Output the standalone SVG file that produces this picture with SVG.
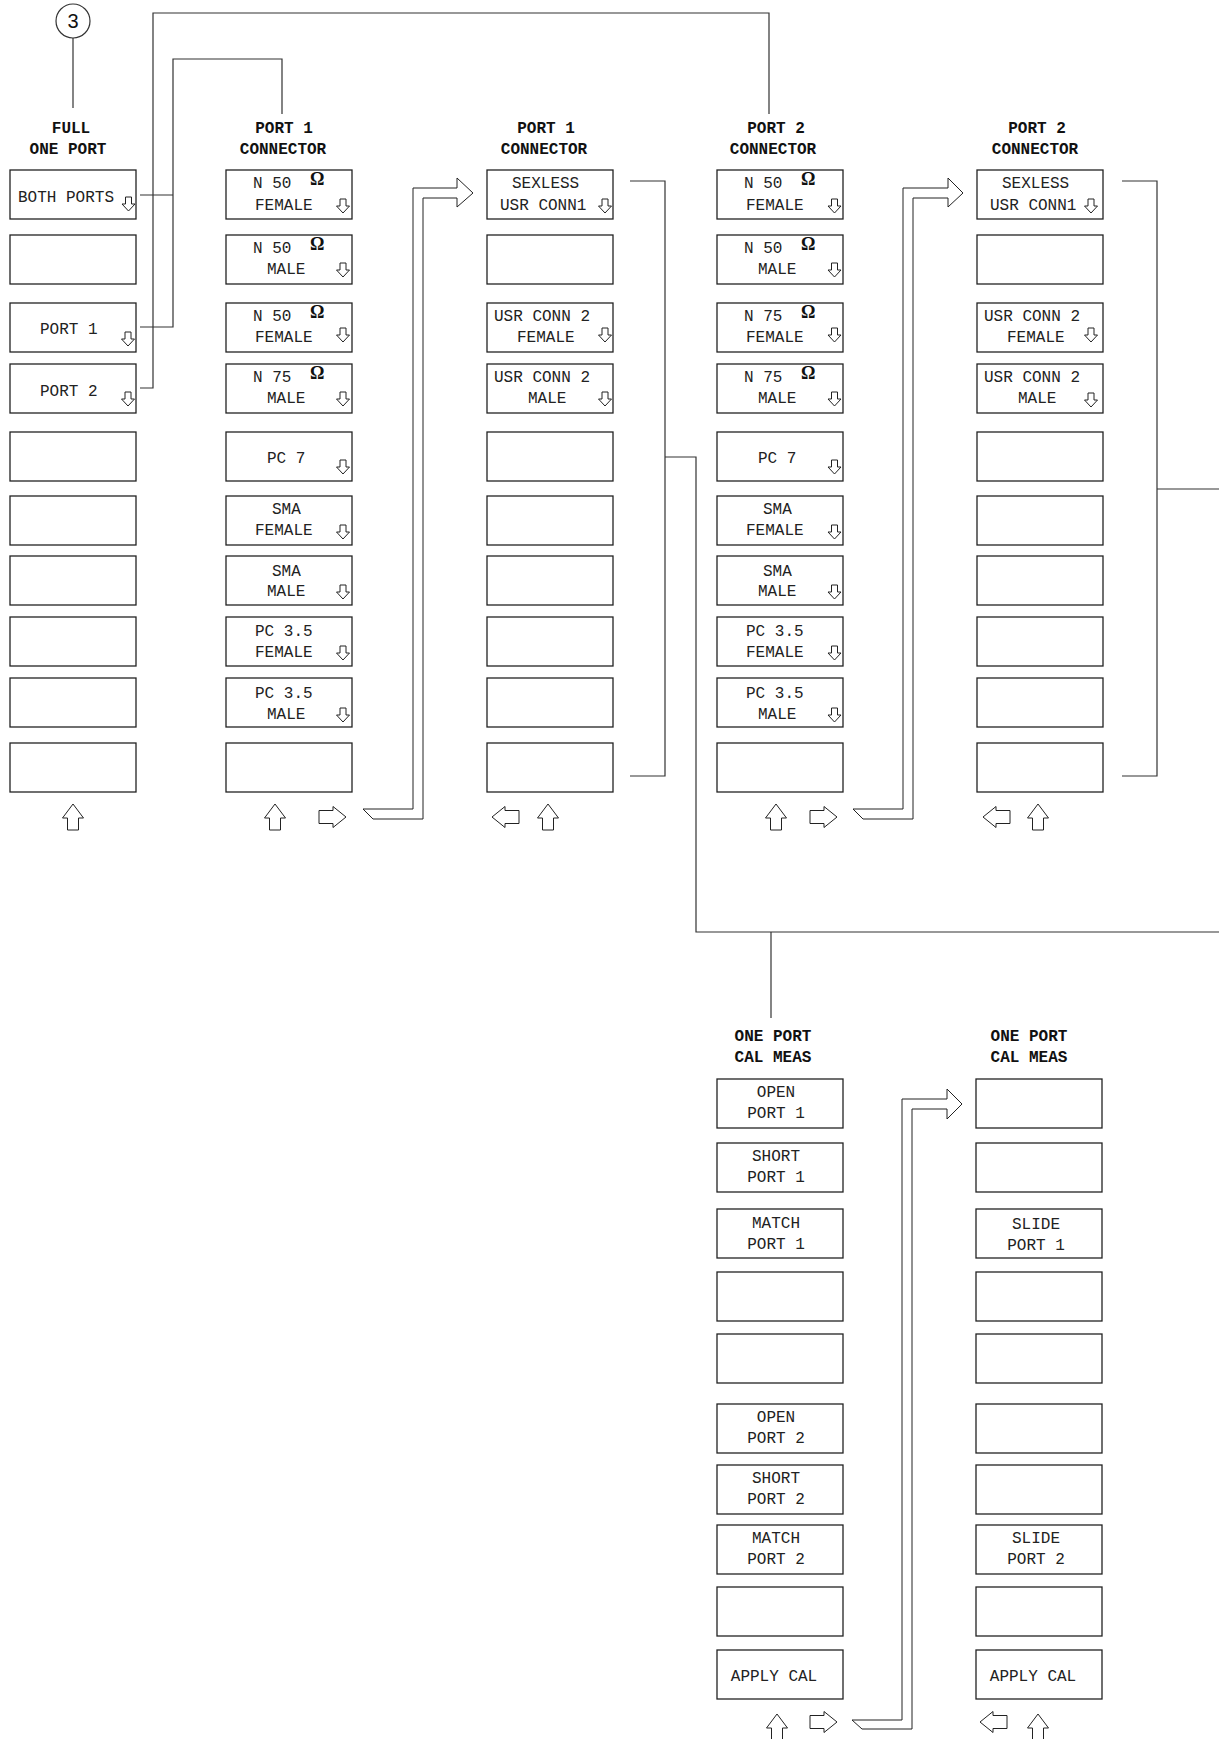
<svg xmlns="http://www.w3.org/2000/svg" xmlns:xlink="http://www.w3.org/1999/xlink" width="1219" height="1739" viewBox="0 0 1219 1739">
<style>
.bg{fill:#fff}
.box{fill:#fff;stroke:#222;stroke-width:1.3}
.t{font-family:"Liberation Mono","Courier New",monospace;font-size:16px;fill:#222}
.c{text-anchor:middle}
.h{font-family:"Liberation Mono","Courier New",monospace;font-size:16px;font-weight:bold;fill:#111;text-anchor:middle}
.om{font-family:"Liberation Serif","Times New Roman",serif;font-size:18px;font-weight:bold;fill:#111}
.ln{fill:none;stroke:#333;stroke-width:1.2}
.ar{fill:#fff;stroke:#222;stroke-width:1}
</style>
<defs>
<path id="dn" class="ar" d="M-3,0 V7 H-6.5 L0,14 L6.5,7 H3 V0 Z"/>
<path id="up" class="ar" d="M0,0 L10.5,14 H5.5 V26 H-5.5 V14 H-10.5 Z"/>
<path id="rt" class="ar" d="M0,-6.5 H14 V-10.5 L27,0 L14,10.5 V6.5 H0 Z"/>
<path id="lf" class="ar" d="M0,0 L13,-10.5 V-6.5 H27 V6.5 H13 V10.5 Z"/>
</defs>
<rect class="bg" x="0" y="0" width="1219" height="1739"/>

<g id="connectors">
<circle class="ln" cx="73" cy="21" r="17"/>
<text x="73" y="28" text-anchor="middle" style="font-family:'Liberation Sans',Arial,sans-serif;font-size:20px;fill:#111">3</text>
<line class="ln" x1="73" y1="38" x2="73" y2="108"/>
<line class="ln" x1="140" y1="195" x2="173" y2="195"/>
<polyline class="ln" points="140,327 173,327 173,59 282,59 282,114"/>
<polyline class="ln" points="140,388 153,388 153,13 769,13 769,114"/>
<polyline class="ln" points="630,181 665,181 665,776 630,776"/>
<polyline class="ln" points="665,457 696,457 696,932 1219,932"/>
<line class="ln" x1="771" y1="932" x2="771" y2="1018"/>
<polyline class="ln" points="1122,181 1157,181 1157,776 1122,776"/>
<line class="ln" x1="1157" y1="489" x2="1219" y2="489"/>
<polygon class="ar" points="363,809 413,809 413,188 457,188 457,178 473,193 457,207 457,198 423,198 423,819 373,819"/>
<polygon class="ar" points="853,809 903,809 903,188 948,188 948,178 963,193 948,207 948,198 913,198 913,819 863,819"/>
<polygon class="ar" points="852,1720 902,1720 902,1099 947,1099 947,1089 962,1104 947,1119 947,1109 912,1109 912,1729 862,1729"/>
</g>

<g id="menu-full-one-port">
<text class="h" x="71" y="133">FULL</text>
<text class="h" x="68" y="154">ONE PORT</text>
<g id="a1"><rect class="box" x="10" y="170" width="126" height="49"/><text class="t" x="18" y="202">BOTH PORTS</text><use href="#dn" x="128.5" y="197"/></g>
<g id="a2"><rect class="box" x="10" y="235" width="126" height="49"/></g>
<g id="a3"><rect class="box" x="10" y="303" width="126" height="49"/><text class="t" x="40" y="334">PORT 1</text><use href="#dn" x="128" y="332"/></g>
<g id="a4"><rect class="box" x="10" y="364" width="126" height="49"/><text class="t" x="40" y="396">PORT 2</text><use href="#dn" x="128" y="392"/></g>
<g id="a5"><rect class="box" x="10" y="432" width="126" height="49"/></g>
<g id="a6"><rect class="box" x="10" y="496" width="126" height="49"/></g>
<g id="a7"><rect class="box" x="10" y="556" width="126" height="49"/></g>
<g id="a8"><rect class="box" x="10" y="617" width="126" height="49"/></g>
<g id="a9"><rect class="box" x="10" y="678" width="126" height="49"/></g>
<g id="a10"><rect class="box" x="10" y="743" width="126" height="49"/></g>
<use href="#up" x="73" y="804"/>
</g>

<g id="menu-port1-connector">
<text class="h" x="284" y="133">PORT 1</text>
<text class="h" x="283" y="154">CONNECTOR</text>
<g id="b1"><rect class="box" x="226" y="170" width="126" height="49"/><text class="t" x="253" y="188">N 50</text><text class="om" x="310" y="185">Ω</text><text class="t" x="255" y="210">FEMALE</text><use href="#dn" x="343" y="199"/></g>
<g id="b2"><rect class="box" x="226" y="235" width="126" height="49"/><text class="t" x="253" y="253">N 50</text><text class="om" x="310" y="250">Ω</text><text class="t" x="267" y="274">MALE</text><use href="#dn" x="343" y="263"/></g>
<g id="b3"><rect class="box" x="226" y="303" width="126" height="49"/><text class="t" x="253" y="321">N 50</text><text class="om" x="310" y="318">Ω</text><text class="t" x="255" y="342">FEMALE</text><use href="#dn" x="343" y="328"/></g>
<g id="b4"><rect class="box" x="226" y="364" width="126" height="49"/><text class="t" x="253" y="382">N 75</text><text class="om" x="310" y="379">Ω</text><text class="t" x="267" y="403">MALE</text><use href="#dn" x="343" y="392"/></g>
<g id="b5"><rect class="box" x="226" y="432" width="126" height="49"/><text class="t" x="267" y="463">PC 7</text><use href="#dn" x="343" y="460"/></g>
<g id="b6"><rect class="box" x="226" y="496" width="126" height="49"/><text class="t" x="272" y="514">SMA</text><text class="t" x="255" y="535">FEMALE</text><use href="#dn" x="343" y="525"/></g>
<g id="b7"><rect class="box" x="226" y="556" width="126" height="49"/><text class="t" x="272" y="576">SMA</text><text class="t" x="267" y="596">MALE</text><use href="#dn" x="343" y="585"/></g>
<g id="b8"><rect class="box" x="226" y="617" width="126" height="49"/><text class="t" x="255" y="636">PC 3.5</text><text class="t" x="255" y="657">FEMALE</text><use href="#dn" x="343" y="646"/></g>
<g id="b9"><rect class="box" x="226" y="678" width="126" height="49"/><text class="t" x="255" y="698">PC 3.5</text><text class="t" x="267" y="719">MALE</text><use href="#dn" x="343" y="708"/></g>
<g id="b10"><rect class="box" x="226" y="743" width="126" height="49"/></g>
<use href="#up" x="275" y="804"/>
<use href="#rt" x="319" y="817"/>
</g>

<g id="menu-port1-connector-2">
<text class="h" x="546" y="133">PORT 1</text>
<text class="h" x="544" y="154">CONNECTOR</text>
<g id="c1"><rect class="box" x="487" y="170" width="126" height="49"/><text class="t" x="512" y="188">SEXLESS</text><text class="t" x="500" y="210">USR CONN1</text><use href="#dn" x="605" y="199"/></g>
<g id="c2"><rect class="box" x="487" y="235" width="126" height="49"/></g>
<g id="c3"><rect class="box" x="487" y="303" width="126" height="49"/><text class="t" x="494" y="321">USR CONN 2</text><text class="t" x="517" y="342">FEMALE</text><use href="#dn" x="605" y="328"/></g>
<g id="c4"><rect class="box" x="487" y="364" width="126" height="49"/><text class="t" x="494" y="382">USR CONN 2</text><text class="t" x="528" y="403">MALE</text><use href="#dn" x="605" y="392"/></g>
<g id="c5"><rect class="box" x="487" y="432" width="126" height="49"/></g>
<g id="c6"><rect class="box" x="487" y="496" width="126" height="49"/></g>
<g id="c7"><rect class="box" x="487" y="556" width="126" height="49"/></g>
<g id="c8"><rect class="box" x="487" y="617" width="126" height="49"/></g>
<g id="c9"><rect class="box" x="487" y="678" width="126" height="49"/></g>
<g id="c10"><rect class="box" x="487" y="743" width="126" height="49"/></g>
<use href="#lf" x="492" y="817"/>
<use href="#up" x="548" y="804"/>
</g>

<g id="menu-port2-connector">
<text class="h" x="776" y="133">PORT 2</text>
<text class="h" x="773" y="154">CONNECTOR</text>
<g id="d1"><rect class="box" x="717" y="170" width="126" height="49"/><text class="t" x="744" y="188">N 50</text><text class="om" x="801" y="185">Ω</text><text class="t" x="746" y="210">FEMALE</text><use href="#dn" x="834.5" y="199"/></g>
<g id="d2"><rect class="box" x="717" y="235" width="126" height="49"/><text class="t" x="744" y="253">N 50</text><text class="om" x="801" y="250">Ω</text><text class="t" x="758" y="274">MALE</text><use href="#dn" x="834.5" y="263"/></g>
<g id="d3"><rect class="box" x="717" y="303" width="126" height="49"/><text class="t" x="744" y="321">N 75</text><text class="om" x="801" y="318">Ω</text><text class="t" x="746" y="342">FEMALE</text><use href="#dn" x="834.5" y="328"/></g>
<g id="d4"><rect class="box" x="717" y="364" width="126" height="49"/><text class="t" x="744" y="382">N 75</text><text class="om" x="801" y="379">Ω</text><text class="t" x="758" y="403">MALE</text><use href="#dn" x="834.5" y="392"/></g>
<g id="d5"><rect class="box" x="717" y="432" width="126" height="49"/><text class="t" x="758" y="463">PC 7</text><use href="#dn" x="834.5" y="460"/></g>
<g id="d6"><rect class="box" x="717" y="496" width="126" height="49"/><text class="t" x="763" y="514">SMA</text><text class="t" x="746" y="535">FEMALE</text><use href="#dn" x="834.5" y="525"/></g>
<g id="d7"><rect class="box" x="717" y="556" width="126" height="49"/><text class="t" x="763" y="576">SMA</text><text class="t" x="758" y="596">MALE</text><use href="#dn" x="834.5" y="585"/></g>
<g id="d8"><rect class="box" x="717" y="617" width="126" height="49"/><text class="t" x="746" y="636">PC 3.5</text><text class="t" x="746" y="657">FEMALE</text><use href="#dn" x="834.5" y="646"/></g>
<g id="d9"><rect class="box" x="717" y="678" width="126" height="49"/><text class="t" x="746" y="698">PC 3.5</text><text class="t" x="758" y="719">MALE</text><use href="#dn" x="834.5" y="708"/></g>
<g id="d10"><rect class="box" x="717" y="743" width="126" height="49"/></g>
<use href="#up" x="776" y="804"/>
<use href="#rt" x="810" y="817"/>
</g>

<g id="menu-port2-connector-2">
<text class="h" x="1037" y="133">PORT 2</text>
<text class="h" x="1035" y="154">CONNECTOR</text>
<g id="e1"><rect class="box" x="977" y="170" width="126" height="49"/><text class="t" x="1002" y="188">SEXLESS</text><text class="t" x="990" y="210">USR CONN1</text><use href="#dn" x="1091" y="199"/></g>
<g id="e2"><rect class="box" x="977" y="235" width="126" height="49"/></g>
<g id="e3"><rect class="box" x="977" y="303" width="126" height="49"/><text class="t" x="984" y="321">USR CONN 2</text><text class="t" x="1007" y="342">FEMALE</text><use href="#dn" x="1091" y="328"/></g>
<g id="e4"><rect class="box" x="977" y="364" width="126" height="49"/><text class="t" x="984" y="382">USR CONN 2</text><text class="t" x="1018" y="403">MALE</text><use href="#dn" x="1091" y="393"/></g>
<g id="e5"><rect class="box" x="977" y="432" width="126" height="49"/></g>
<g id="e6"><rect class="box" x="977" y="496" width="126" height="49"/></g>
<g id="e7"><rect class="box" x="977" y="556" width="126" height="49"/></g>
<g id="e8"><rect class="box" x="977" y="617" width="126" height="49"/></g>
<g id="e9"><rect class="box" x="977" y="678" width="126" height="49"/></g>
<g id="e10"><rect class="box" x="977" y="743" width="126" height="49"/></g>
<use href="#lf" x="983" y="817"/>
<use href="#up" x="1038" y="804"/>
</g>

<g id="menu-one-port-cal-meas">
<text class="h" x="773" y="1041">ONE PORT</text>
<text class="h" x="773" y="1062">CAL MEAS</text>
<g id="f1"><rect class="box" x="717" y="1079" width="126" height="49"/><text class="t c" x="776" y="1097">OPEN</text><text class="t c" x="776" y="1118">PORT 1</text></g>
<g id="f2"><rect class="box" x="717" y="1143" width="126" height="49"/><text class="t c" x="776" y="1161">SHORT</text><text class="t c" x="776" y="1182">PORT 1</text></g>
<g id="f3"><rect class="box" x="717" y="1209" width="126" height="49"/><text class="t c" x="776" y="1228">MATCH</text><text class="t c" x="776" y="1249">PORT 1</text></g>
<g id="f4"><rect class="box" x="717" y="1272" width="126" height="49"/></g>
<g id="f5"><rect class="box" x="717" y="1334" width="126" height="49"/></g>
<g id="f6"><rect class="box" x="717" y="1404" width="126" height="49"/><text class="t c" x="776" y="1422">OPEN</text><text class="t c" x="776" y="1443">PORT 2</text></g>
<g id="f7"><rect class="box" x="717" y="1465" width="126" height="49"/><text class="t c" x="776" y="1483">SHORT</text><text class="t c" x="776" y="1504">PORT 2</text></g>
<g id="f8"><rect class="box" x="717" y="1525" width="126" height="49"/><text class="t c" x="776" y="1543">MATCH</text><text class="t c" x="776" y="1564">PORT 2</text></g>
<g id="f9"><rect class="box" x="717" y="1587" width="126" height="49"/></g>
<g id="f10"><rect class="box" x="717" y="1650" width="126" height="49"/><text class="t c" x="774" y="1681">APPLY CAL</text></g>
<use href="#up" x="777" y="1714"/>
<use href="#rt" x="810" y="1722"/>
</g>

<g id="menu-one-port-cal-meas-2">
<text class="h" x="1029" y="1041">ONE PORT</text>
<text class="h" x="1029" y="1062">CAL MEAS</text>
<g id="g1"><rect class="box" x="976" y="1079" width="126" height="49"/></g>
<g id="g2"><rect class="box" x="976" y="1143" width="126" height="49"/></g>
<g id="g3"><rect class="box" x="976" y="1209" width="126" height="49"/><text class="t c" x="1036" y="1229">SLIDE</text><text class="t c" x="1036" y="1250">PORT 1</text></g>
<g id="g4"><rect class="box" x="976" y="1272" width="126" height="49"/></g>
<g id="g5"><rect class="box" x="976" y="1334" width="126" height="49"/></g>
<g id="g6"><rect class="box" x="976" y="1404" width="126" height="49"/></g>
<g id="g7"><rect class="box" x="976" y="1465" width="126" height="49"/></g>
<g id="g8"><rect class="box" x="976" y="1525" width="126" height="49"/><text class="t c" x="1036" y="1543">SLIDE</text><text class="t c" x="1036" y="1564">PORT 2</text></g>
<g id="g9"><rect class="box" x="976" y="1587" width="126" height="49"/></g>
<g id="g10"><rect class="box" x="976" y="1650" width="126" height="49"/><text class="t c" x="1033" y="1681">APPLY CAL</text></g>
<use href="#lf" x="980" y="1722"/>
<use href="#up" x="1038" y="1714"/>
</g>
</svg>
